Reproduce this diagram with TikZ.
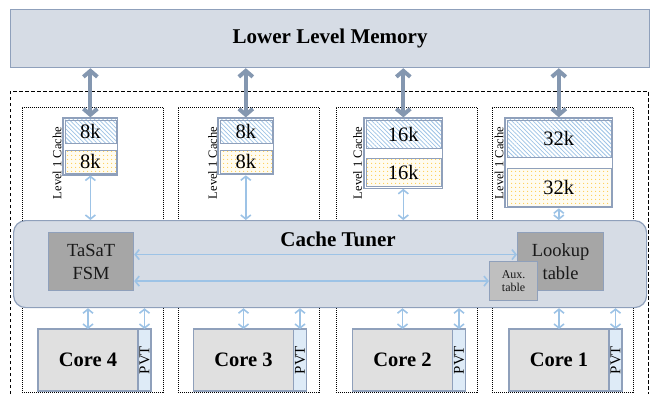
\documentclass[tikz,border=0pt]{standalone}
\usepackage{fontspec}
\setmainfont{Liberation Serif}
\usetikzlibrary{positioning,arrows.meta,fit,patterns.meta}
\definecolor{MemFill}{RGB}{214,220,229}
\definecolor{SlateEdge}{RGB}{143,160,187}
\definecolor{SlateArrow}{RGB}{132,151,176}
\definecolor{SkyArrow}{RGB}{157,195,230}
\definecolor{FsmGray}{RGB}{166,166,166}
\definecolor{AuxGray}{RGB}{191,191,191}
\definecolor{CoreGray}{RGB}{224,224,224}
\definecolor{PvtBlue}{RGB}{222,235,247}
\definecolor{DotYellow}{RGB}{255,205,80}
\definecolor{CreamBg}{RGB}{255,252,240}
\tikzset{
  memflow/.style={{Straight Barb[length=6pt,width=14pt]}-{Straight Barb[length=6pt,width=14pt]},
    line width=4pt,draw=SlateArrow},
  tunerflow/.style={{Straight Barb[length=4pt,width=10pt]}-{Straight Barb[length=4pt,width=10pt]},
    line width=1.6pt,draw=SkyArrow},
  chipframe/.style={draw=black,line width=0.6pt,dash pattern=on 3.5pt off 2.5pt},
  colframe/.style={draw=black,line width=0.6pt,dash pattern=on 1pt off 1pt,
    anchor=north west,minimum width=141pt,minimum height=285pt,inner sep=0pt},
  membox/.style={draw=SlateEdge,fill=MemFill,line width=1.2pt,anchor=north west,
    inner sep=0pt,font=\fontsize{21}{24}\selectfont\bfseries},
  hatchbox/.style={draw=SlateEdge,line width=0.6pt,anchor=north west,inner sep=0pt,
    preaction={fill=white},pattern={Lines[angle=-45,distance=3pt,line width=0.8pt]},
    pattern color=SkyArrow,font=\fontsize{20.5}{24}\selectfont},
  dotbox/.style={draw=SlateEdge,line width=0.6pt,inner sep=0pt,
    preaction={fill=CreamBg},pattern={Dots[radius=0.7pt,distance=4pt]},
    pattern color=DotYellow,font=\fontsize{20.5}{24}\selectfont},
  cacheframe/.style={draw=SlateEdge,line width=1.2pt,inner sep=1.5pt},
  l1label/.style={rotate=90,inner sep=0pt,font=\fontsize{12.5}{14}\selectfont},
  tunerbox/.style={draw=SlateEdge,fill=MemFill,line width=1.2pt,rounded corners=12pt,
    anchor=north west,inner sep=0pt},
  fsmbox/.style={draw=SlateEdge,fill=FsmGray,line width=1.2pt,anchor=north west,
    inner sep=0pt,align=center,text=black!90,font=\fontsize{18.5}{23}\selectfont},
  auxbox/.style={draw=SlateEdge,fill=AuxGray,line width=1.2pt,anchor=north west,
    inner sep=0pt,align=center,text=black!90,font=\fontsize{12}{13}\selectfont},
  corebox/.style={draw=SlateEdge,fill=CoreGray,line width=1.2pt,anchor=north west,
    minimum width=100pt,minimum height=62pt,inner sep=0pt,outer sep=0pt,
    font=\fontsize{20.5}{24}\selectfont\bfseries},
  pvtbox/.style={draw=SlateEdge,fill=PvtBlue,line width=1.2pt,minimum width=13pt,
    minimum height=62pt,inner sep=0pt,outer sep=0pt,font=\fontsize{15}{18}\selectfont}
}
\begin{document}
\begin{tikzpicture}[x=1pt,y=-1pt]
  \useasboundingbox (0,0) rectangle (652,394);
  % chip outline and the four core tiles
  \draw[chipframe] (10,394) |- (648,91) -- (648,394);
  \node[colframe] (col4) at (22,107) {};
  \node[colframe] (col3) at (177.5,107) {};
  \node[colframe] (col2) at (335.5,107) {};
  \node[colframe] (col1) at (492,107) {};

  \node[membox,minimum width=639pt,minimum height=58pt] (mem) at (10,9) {Lower Level Memory};

  % level 1 caches (instruction / data halves)
  \node[hatchbox,minimum width=51pt,minimum height=23pt] (c4hatch) at (64.5,119.5) {8k};
  \node[dotbox,below=6.5pt of c4hatch,minimum width=51pt,minimum height=23pt] (c4dot) {8k};
  \node[cacheframe,fit=(c4hatch)(c4dot)] (c4frame) {};
  \node[hatchbox,minimum width=52pt,minimum height=23pt] (c3hatch) at (219.5,119.5) {8k};
  \node[dotbox,below=6.5pt of c3hatch,minimum width=52pt,minimum height=23pt] (c3dot) {8k};
  \node[cacheframe,fit=(c3hatch)(c3dot)] (c3frame) {};
  \node[hatchbox,minimum width=75pt,minimum height=28.5pt] (c2hatch) at (365.5,119.5) {16k};
  \node[dotbox,below=9pt of c2hatch,minimum width=75pt,minimum height=28.5pt] (c2dot) {16k};
  \node[cacheframe,fit=(c2hatch)(c2dot)] (c2frame) {};
  \node[hatchbox,minimum width=104pt,minimum height=37.5pt] (c1hatch) at (506.5,119.5) {32k};
  \node[dotbox,below=10.5pt of c1hatch,minimum width=104pt,minimum height=37.5pt] (c1dot) {32k};
  \node[cacheframe,fit=(c1hatch)(c1dot)] (c1frame) {};

  \node[l1label] (l1c4) at (57,163) {Level 1 Cache};
  \node[l1label] (l1c3) at (212.5,163) {Level 1 Cache};
  \node[l1label] (l1c2) at (357.5,163) {Level 1 Cache};
  \node[l1label] (l1c1) at (499,163) {Level 1 Cache};

  \draw[memflow] (mem.south -| c4frame.north) -- (c4frame.north);
  \draw[memflow] (mem.south -| c3frame.north) -- (c3frame.north);
  \draw[memflow] (mem.south -| c2frame.north) -- (c2frame.north);
  \draw[memflow] (mem.south -| c1frame.north) -- (c1frame.north);

  % tuner with its state machine and tables
  \node[tunerbox,minimum width=633pt,minimum height=87pt] (tuner) at (13,220) {};
  \node[font=\fontsize{21}{24}\selectfont\bfseries,inner sep=0pt] (tunertitle) at (338,239) {Cache Tuner};
  \node[fsmbox,minimum width=85pt,minimum height=58pt] (fsm) at (48,232) {TaSaT\\FSM};
  \node[fsmbox,minimum width=86pt,minimum height=58pt] (lookup) at (517,232) {Lookup\\table};
  \node[auxbox,minimum width=48pt,minimum height=39pt] (aux) at (489,261) {Aux.\\table};
  \draw[tunerflow] ([yshift=7pt]fsm.east) -- ([yshift=7pt]lookup.west);
  \draw[tunerflow] (aux.west -| fsm.east) -- (aux.west);

  \draw[tunerflow] (c4frame.south) -- (c4frame.south |- tuner.north);
  \draw[tunerflow] (c3frame.south) -- (c3frame.south |- tuner.north);
  \draw[tunerflow] (c2frame.south) -- (c2frame.south |- tuner.north);
  \draw[tunerflow] (c1frame.south) -- (c1frame.south |- tuner.north);

  % cores with their PVT sensors
  \node[corebox] (core4) at (38,329) {Core 4};
  \node[pvtbox,right=0pt of core4] (pvt4) {\rotatebox{90}{PVT}};
  \node[corebox] (core3) at (193.5,329) {Core 3};
  \node[pvtbox,right=0pt of core3] (pvt3) {\rotatebox{90}{PVT}};
  \node[corebox] (core2) at (352.5,329) {Core 2};
  \node[pvtbox,right=0pt of core2] (pvt2) {\rotatebox{90}{PVT}};
  \node[corebox] (core1) at (509,329) {Core 1};
  \node[pvtbox,right=0pt of core1] (pvt1) {\rotatebox{90}{PVT}};

  \draw[tunerflow] (tuner.south -| core4.north) -- (core4.north);
  \draw[tunerflow] (tuner.south -| pvt4.north) -- (pvt4.north);
  \draw[tunerflow] (tuner.south -| core3.north) -- (core3.north);
  \draw[tunerflow] (tuner.south -| pvt3.north) -- (pvt3.north);
  \draw[tunerflow] (tuner.south -| core2.north) -- (core2.north);
  \draw[tunerflow] (tuner.south -| pvt2.north) -- (pvt2.north);
  \draw[tunerflow] (tuner.south -| core1.north) -- (core1.north);
  \draw[tunerflow] (tuner.south -| pvt1.north) -- (pvt1.north);
\end{tikzpicture}
\end{document}
